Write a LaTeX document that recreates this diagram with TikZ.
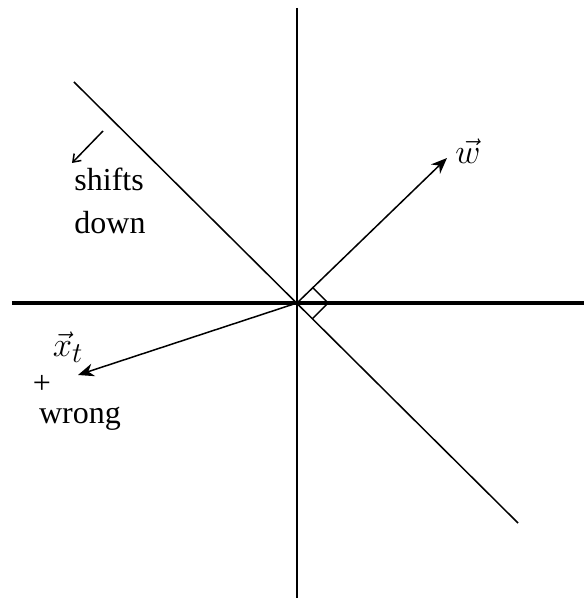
\documentclass[tikz,border=0pt]{standalone}
\usepackage{fontspec}
\setmainfont{Liberation Serif}
\usetikzlibrary{arrows.meta}

\begin{document}
\begin{tikzpicture}[x=.5pt,y=.5pt,font=\fontsize{16}{21.5}\selectfont,
 ax/.style={line width=1pt},
 ln/.style={line width=.75pt},
 ar/.style={-{Stealth[length=8pt,width=6.5pt]},line width=.75pt},
 lab/.style={inner sep=0pt},
 vlab/.style={inner sep=0pt,font=\fontsize{19}{23}\selectfont}]
\useasboundingbox (-297,-295) rectangle (287,303);
\coordinate (o) at (0,0);
\coordinate (top) at (0,295);
\coordinate (bot) at (0,-295);
\coordinate (lft) at (-285,0);
\coordinate (rgt) at (287,0);
\coordinate (dtop) at (-223,221);
\coordinate (dbot) at (221,-220);
\coordinate (wtip) at (150,145);
\coordinate (xtip) at (-219,-72);
\coordinate (sfrom) at (-194,172);
\coordinate (sto) at (-225,140);
% axes and boundary
\draw[ax] (top) -- (bot);
\draw[line width=1.7pt] (lft) -- (rgt);
\draw[ln] (dtop) -- (dbot);
% vectors
\draw[ar] (o) -- (wtip);
\draw[ar] (o) -- (xtip);
\draw[ln] (o) ++(45:22) -- ++(-45:22) -- ++(-135:22);
\node[vlab] (wl) at (171,152) {$\vec{w}$};
\node[vlab] (xl) at (-229,-44) {$\vec{x}_t$};
% labels
\draw[ln,-{Straight Barb[length=3.5pt,width=5pt]}] (sfrom) -- (sto);
\node[lab,align=left] (shift) at (-187,102) {shifts\\down};
\node[lab] (plus) at (-255,-81) {+};
\node[lab] (wrong) at (-217,-116) {wrong};
\end{tikzpicture}
\end{document}
